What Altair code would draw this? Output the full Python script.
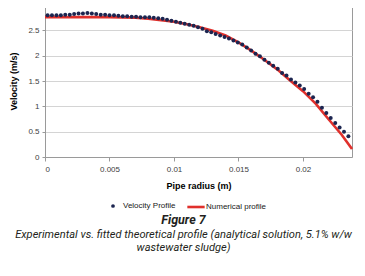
import altair as alt
import pandas as pd

# Measured velocity profile (dots)
radius_pts = [0.00020, 0.00054, 0.00089, 0.00123, 0.00157, 0.00192, 0.00226, 0.00260,
              0.00294, 0.00329, 0.00363, 0.00397, 0.00432, 0.00466, 0.00500, 0.00535,
              0.00569, 0.00603, 0.00637, 0.00672, 0.00706, 0.00740, 0.00775, 0.00809,
              0.00843, 0.00878, 0.00912, 0.00946, 0.00980, 0.01015, 0.01049, 0.01083,
              0.01118, 0.01152, 0.01186, 0.01221, 0.01255, 0.01289, 0.01323, 0.01358,
              0.01392, 0.01426, 0.01461, 0.01495, 0.01529, 0.01564, 0.01598, 0.01632,
              0.01666, 0.01701, 0.01735, 0.01769, 0.01804, 0.01838, 0.01872, 0.01907,
              0.01941, 0.01975, 0.02009, 0.02044, 0.02078, 0.02112, 0.02147, 0.02181,
              0.02215, 0.02250, 0.02284, 0.02318, 0.02352]
velocity_pts = [2.80, 2.80, 2.80, 2.80, 2.81, 2.81, 2.82, 2.83,
                2.83, 2.84, 2.83, 2.82, 2.81, 2.81, 2.80, 2.80,
                2.79, 2.78, 2.78, 2.77, 2.77, 2.76, 2.76, 2.76,
                2.75, 2.74, 2.73, 2.71, 2.69, 2.67, 2.65, 2.63,
                2.61, 2.59, 2.56, 2.53, 2.48, 2.46, 2.43, 2.40,
                2.37, 2.34, 2.30, 2.26, 2.22, 2.16, 2.10, 2.04,
                1.99, 1.92, 1.86, 1.80, 1.74, 1.66, 1.61, 1.53,
                1.47, 1.41, 1.34, 1.25, 1.18, 1.09, 0.97, 0.87,
                0.77, 0.67, 0.58, 0.50, 0.41]

# Numerical (fitted) profile (red line)
radius_line = [0.0000, 0.0010, 0.0020, 0.0030, 0.0040, 0.0050, 0.0060, 0.0070,
               0.0080, 0.0090, 0.0100, 0.0110, 0.0120, 0.0130, 0.0140, 0.0150,
               0.0160, 0.0170, 0.0180, 0.0190, 0.0200, 0.0210, 0.0220, 0.0230, 0.0238]
velocity_line = [2.76, 2.76, 2.76, 2.76, 2.76, 2.76, 2.755, 2.75,
                 2.73, 2.70, 2.67, 2.62, 2.56, 2.49, 2.40, 2.26,
                 2.10, 1.92, 1.73, 1.51, 1.30, 1.05, 0.74, 0.44, 0.16]

x_ticks = [0, 0.005, 0.01, 0.015, 0.02]
y_ticks = [0, 0.5, 1, 1.5, 2, 2.5, 3]

pts = pd.DataFrame({"r": radius_pts, "v": velocity_pts, "s": "Velocity Profile"})
line = pd.DataFrame({"r": radius_line, "v": velocity_line, "s": "Numerical profile"})

AX = "Liberation Sans"
CAP = "Roboto"
xs = alt.Scale(domain=[0, 0.0238], nice=False, zero=False)
ys = alt.Scale(domain=[0, 3], nice=False)

x_enc = alt.X("r:Q", scale=xs, title="Pipe radius (m)",
              axis=alt.Axis(values=x_ticks, format="~g", grid=False, domainColor="#9a9a9a",
                            tickColor="#9a9a9a", tickSize=4, labelFontSize=8, labelColor="#404040",
                            labelFont=AX, titleFont=AX, titleFontSize=9, titleFontWeight="bold",
                            titleColor="#000000", labelPadding=4, titlePadding=8))
y_enc = alt.Y("v:Q", scale=ys, title="Velocity (m/s)",
              axis=alt.Axis(values=y_ticks, format="~g", grid=True, gridColor="#d4d4d4",
                            gridWidth=1.2, domainColor="#9a9a9a", tickColor="#9a9a9a",
                            tickSize=3, labelFontSize=8, labelColor="#404040", labelFont=AX,
                            titleFont=AX, titleFontSize=9, titleFontWeight="bold",
                            titleColor="#000000", labelPadding=3, titlePadding=9))

line_layer = alt.Chart(line).mark_line(strokeWidth=2.6, color="#e0302c").encode(
    x=x_enc, y=y_enc,
    stroke=alt.Stroke("s:N", scale=alt.Scale(domain=["Numerical profile"], range=["#e0302c"]),
                      legend=alt.Legend(title=None, orient="none", legendX=141, legendY=192,
                                        symbolType="stroke", symbolSize=300, symbolStrokeWidth=2.6,
                                        labelFont=AX, labelFontSize=8, labelColor="#202020",
                                        labelOffset=0)),
)
pt_layer = alt.Chart(pts).mark_circle(size=16, opacity=1).encode(
    x=x_enc, y=y_enc,
    color=alt.Color("s:N", scale=alt.Scale(domain=["Velocity Profile"], range=["#1c2550"]),
                    legend=alt.Legend(title=None, orient="none", legendX=64, legendY=197,
                                      symbolType="circle", symbolSize=14,
                                      labelFont=AX, labelFontSize=8, labelColor="#202020",
                                      labelOffset=6)),
)

chart = alt.layer(line_layer, pt_layer).properties(
    width=307, height=152,
    autosize=alt.AutoSizeParams(type="none"),
    padding={"left": 37, "top": -3, "right": 5, "bottom": 110},
    title=alt.Title("Figure 7",
                    subtitle=["Experimental vs. fitted theoretical profile (analytical solution, 5.1% w/w",
                              "wastewater sludge)"],
                    orient="bottom", anchor="middle", frame="bounds",
                    font=CAP, fontSize=12.5, fontStyle="italic",
                    fontWeight="bold", color="#231f20",
                    subtitleFont=CAP, subtitleFontSize=11.1,
                    subtitleFontStyle="italic", subtitleColor="#231f20",
                    subtitleLineHeight=13, subtitlePadding=2, offset=1),
).configure_view(stroke="#9a9a9a", strokeWidth=1)

chart.save("out.html", embed_options={"renderer": "svg", "actions": False})
